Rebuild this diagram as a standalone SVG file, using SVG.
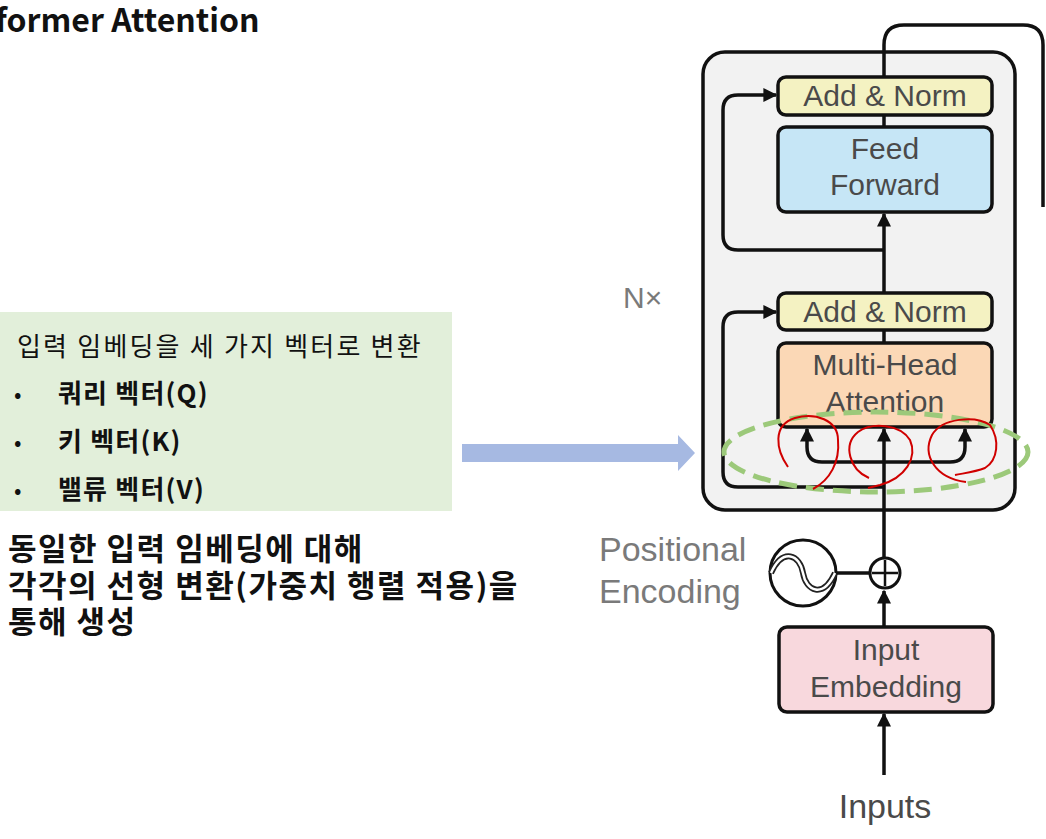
<svg xmlns="http://www.w3.org/2000/svg" width="1046" height="839" viewBox="0 0 1046 839">
<style>
.box{stroke:#111;stroke-width:3.5}
.ln{fill:none;stroke:#111;stroke-width:3.5}
.lbl{font-family:"Liberation Sans",Arial,sans-serif;font-size:30px;fill:#4a4a4a;text-anchor:middle}
.gray{font-family:"Liberation Sans",Arial,sans-serif;fill:#7a7a7a}
.kr{font-family:"Noto Sans CJK KR","Malgun Gothic",sans-serif;fill:#111}
</style>
<defs>
<marker id="ah" viewBox="0 0 10 10" refX="9" refY="5" markerWidth="4" markerHeight="4" markerUnits="strokeWidth" orient="auto">
<path d="M0,0 L10,5 L0,10 z" fill="#111"/>
</marker>
</defs>
<rect width="1046" height="839" fill="#fff"/>

<g id="title">
<text x="-5" y="32" class="kr" font-size="32" font-weight="bold">former Attention</text>
</g>

<g id="encoder-frame">
<rect x="703" y="52" width="312" height="458" rx="22" fill="#f2f2f2" stroke="#111" stroke-width="3.5"/>
</g>
<g id="nx"><text x="623" y="308" class="gray" font-size="30">N×</text></g>

<g id="connectors">
<path class="ln" d="M884,77 V45 Q884,25 904,25 H1023 Q1043,25 1043,45 V207"/>
<line class="ln" x1="884" y1="127" x2="884" y2="115"/>
<line class="ln" x1="884" y1="293" x2="884" y2="214" marker-end="url(#ah)"/>
<path class="ln" d="M884,250 H738 Q723,250 723,235 V110 Q723,95 738,95 H776" marker-end="url(#ah)"/>
<line class="ln" x1="884" y1="343" x2="884" y2="330"/>
<line class="ln" x1="884" y1="557" x2="884" y2="429" marker-end="url(#ah)"/>
<path class="ln" d="M884,487 H738 Q723,487 723,472 V327 Q723,312 738,312 H776" marker-end="url(#ah)"/>
<path class="ln" d="M822,462 H950"/>
<path class="ln" d="M822,462 Q807,462 807,447 V429" marker-end="url(#ah)"/>
<path class="ln" d="M950,462 Q965,462 965,447 V429" marker-end="url(#ah)"/>
<line class="ln" x1="884" y1="627" x2="884" y2="591" marker-end="url(#ah)"/>
<line class="ln" x1="884" y1="775" x2="884" y2="714" marker-end="url(#ah)"/>
<line class="ln" x1="836" y1="573" x2="869" y2="573"/>
</g>

<g id="add-norm-2">
<rect class="box" x="778" y="77" width="214" height="38" rx="8" fill="#f4f2c2"/>
<text class="lbl" x="885" y="106">Add &amp; Norm</text>
</g>
<g id="feed-forward">
<rect class="box" x="778" y="127" width="214" height="85" rx="8" fill="#c6e6f6"/>
<text class="lbl" x="885" y="159">Feed</text>
<text class="lbl" x="885" y="195">Forward</text>
</g>
<g id="add-norm-1">
<rect class="box" x="778" y="293" width="214" height="37" rx="8" fill="#f4f2c2"/>
<text class="lbl" x="885" y="322">Add &amp; Norm</text>
</g>
<g id="multi-head-attention">
<rect class="box" x="778" y="343" width="214" height="84" rx="8" fill="#fbd8b6"/>
<text class="lbl" x="885" y="375">Multi-Head</text>
<text class="lbl" x="885" y="412">Attention</text>
</g>

<g id="positional-encoding">
<circle cx="803" cy="573" r="33" fill="#fff" stroke="#111" stroke-width="3"/>
<path d="M771,573 C783,547 800,555 803,573 C806,591 823,599 835,573" fill="none" stroke="#222" stroke-width="6"/>
<path d="M771,573 C783,547 800,555 803,573 C806,591 823,599 835,573" fill="none" stroke="#fff" stroke-width="2.5"/>
<text class="gray" x="599" y="561" font-size="34">Positional</text>
<text class="gray" x="599" y="603" font-size="34">Encoding</text>
</g>
<g id="add-op">
<circle cx="885" cy="573" r="15" fill="#fff" stroke="#111" stroke-width="3"/>
<path d="M885,560 V586 M872,573 H898" stroke="#111" stroke-width="2.5"/>
</g>
<g id="input-embedding">
<rect class="box" x="779" y="627" width="214" height="85" rx="8" fill="#f8d8dd"/>
<text class="lbl" x="886" y="660">Input</text>
<text class="lbl" x="886" y="697">Embedding</text>
</g>
<g id="inputs"><text class="lbl" x="885" y="818" style="font-size:34px">Inputs</text></g>

<g id="highlight">
<ellipse cx="876" cy="452" rx="152" ry="40" fill="none" stroke="#9cc97a" stroke-width="5" stroke-dasharray="18 9"/>
<path d="M788,467 C776,450 772,425 795,418 C815,412 838,420 838,440 C840,462 830,480 813,489" fill="none" stroke="#d00000" stroke-width="2"/>
<path d="M869,478 C850,470 842,445 858,432 C872,422 900,424 910,440 C918,458 905,478 880,485 L868,488" fill="none" stroke="#d00000" stroke-width="2"/>
<path d="M966,482 C935,478 922,455 932,435 C942,418 975,415 990,425 C1000,440 998,460 985,468 C975,472 965,473 955,475" fill="none" stroke="#d00000" stroke-width="2"/>
</g>

<g id="arrow-big">
<path d="M462,444 H678 V435 L695,453 L678,471 V462 H462 z" fill="#a6b9e2"/>
</g>

<g id="qkv-box">
<rect x="0" y="312" width="452" height="199" fill="#e2efda"/>
<text class="kr" x="17" y="356" font-size="26" letter-spacing="2.2">입력 임베딩을 세 가지 벡터로 변환</text>
<text class="kr" x="14" y="402" font-size="22">•</text>
<text class="kr" x="58" y="403" font-size="26" font-weight="bold" letter-spacing="1.2">쿼리 벡터(Q)</text>
<text class="kr" x="14" y="450" font-size="22">•</text>
<text class="kr" x="58" y="451" font-size="26" font-weight="bold" letter-spacing="1.2">키 벡터(K)</text>
<text class="kr" x="14" y="498" font-size="22">•</text>
<text class="kr" x="58" y="499" font-size="26" font-weight="bold" letter-spacing="1.2">밸류 벡터(V)</text>
</g>

<g id="note">
<text class="kr" x="8" y="560" font-size="31" font-weight="bold" letter-spacing="1.5">동일한 입력 임베딩에 대해</text>
<text class="kr" x="8" y="597" font-size="31" font-weight="bold" letter-spacing="1.5">각각의 선형 변환(가중치 행렬 적용)을</text>
<text class="kr" x="8" y="633" font-size="31" font-weight="bold" letter-spacing="1.5">통해 생성</text>
</g>
</svg>
